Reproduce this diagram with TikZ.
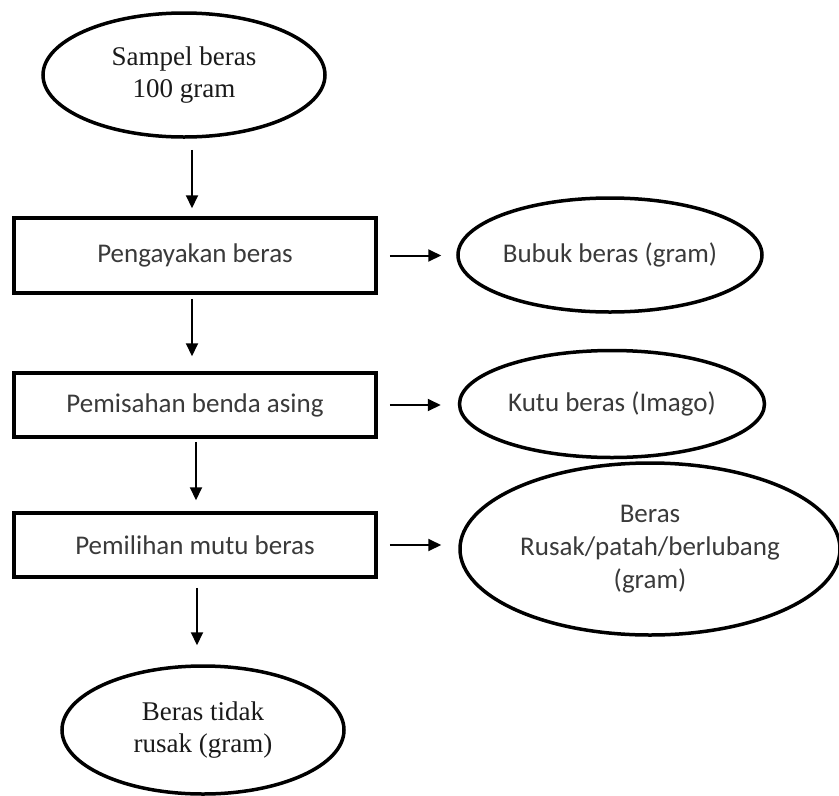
\documentclass[tikz,border=0pt]{standalone}
\usepackage{fontspec}
\setmainfont{Liberation Serif}
\newfontfamily\calfont{Carlito}
\usetikzlibrary{shapes.geometric,arrows.meta}
\definecolor{txtgray}{HTML}{3A3A3A}
\definecolor{txtdark}{HTML}{1A1A1A}
\tikzset{
  serifoval/.style={draw, ellipse, line width=3.5pt, inner sep=0pt, align=center,
    text=txtdark, font=\fontsize{27}{32}\selectfont},
  caloval/.style={draw, ellipse, line width=3.5pt, inner sep=0pt, align=center,
    text=txtgray, font=\calfont\fontsize{27}{33}\selectfont},
  stepbox/.style={draw, rectangle, line width=3.5pt, inner sep=0pt, minimum width=362pt,
    text=txtgray, font=\calfont\fontsize{27}{33}\selectfont},
  arr/.style={line width=2pt, -{Triangle[length=13pt,width=12pt]}}
}
\begin{document}
\begin{tikzpicture}[x=1pt,y=-1pt]
\useasboundingbox (0,0) rectangle (839,796);
\node[serifoval, minimum width=282pt, minimum height=124pt] (e0) at (184,75) {Sampel beras\\100 gram};
\node[stepbox, minimum height=75pt] (b1) at (195,255.5) {Pengayakan beras};
\node[stepbox, minimum height=64pt] (b2) at (195,405) {Pemisahan benda asing};
\node[stepbox, minimum height=64pt] (b3) at (195,545) {Pemilihan mutu beras};
\node[serifoval, minimum width=282pt, minimum height=128pt] (e4) at (203,730) {Beras tidak\\rusak (gram)};
\node[caloval, minimum width=304pt, minimum height=114pt] (r1) at (610,255) {Bubuk beras (gram)};
\node[caloval, minimum width=305pt, minimum height=107pt] (r2) at (612,404) {Kutu beras (Imago)};
\node[caloval, minimum width=380pt, minimum height=172pt] (r3) at (650,549) {Beras\\Rusak/patah/berlubang\\(gram)};
\draw[arr] ([xshift=8pt,yshift=-11pt]e0.south) -- ([xshift=-3pt,yshift=8pt]b1.north);
\draw[arr] ([xshift=-3pt,yshift=-4pt]b1.south) -- ([xshift=-3pt,yshift=15pt]b2.north);
\draw[arr] ([xshift=1pt,yshift=-3pt]b2.south) -- ([xshift=1pt,yshift=11pt]b3.north);
\draw[arr] ([xshift=2pt,yshift=-9pt]b3.south) -- ([xshift=-6pt,yshift=19pt]e4.north);
\draw[arr, shorten <=12pt, shorten >=15pt] (b1.east) -- (b1.east -| r1.west);
\draw[arr, shorten <=12pt, shorten >=17pt] (b2.east) -- (b2.east -| r2.west);
\draw[arr, shorten <=12pt, shorten >=17pt] (b3.east) -- (b3.east -| r3.west);
\end{tikzpicture}
\end{document}
